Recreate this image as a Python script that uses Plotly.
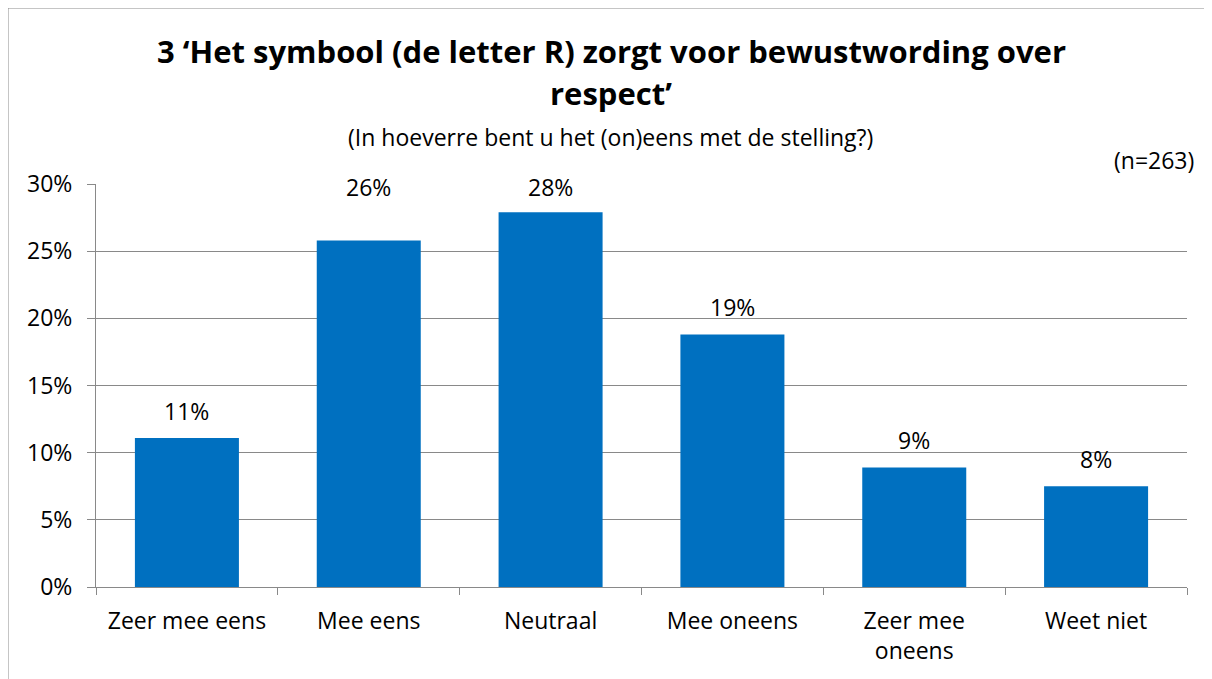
import plotly.graph_objects as go

categories = ["Zeer mee eens", "Mee eens", "Neutraal", "Mee oneens", "Zeer mee<br>oneens", "Weet niet"]
values = [11.1, 25.8, 27.9, 18.8, 8.9, 7.5]
labels = ["11%", "26%", "28%", "19%", "9%", "8%"]
y_ticks = [0, 5, 10, 15, 20, 25, 30]
y_tick_labels = ["0%", "5%", "10%", "15%", "20%", "25%", "30%"]

FONT = "'Open Sans', Lato, sans-serif"
GRID = "#898989"

W, H = 1204, 671
ml, mr, mt, mb = 88, 25, 176, 92
pw, ph = W - ml - mr, H - mt - mb
OFF = 8  # page offset of the figure


def px_x(p):
    return (p - OFF - ml) / pw


def px_y(p):
    return (H - mb - (p - OFF)) / ph


fig = go.Figure()
fig.add_trace(go.Bar(x=categories, y=values, marker=dict(color="#0070C0", line=dict(width=0)),
                     width=0.572, hoverinfo="skip"))

extra_shift = {1: 26, 2: -2}
for i, (c, v, t) in enumerate(zip(categories, values, labels)):
    fig.add_annotation(x=c, y=v, text=t, showarrow=False, yanchor="middle",
                       yshift=27 + extra_shift.get(i, 0),
                       font=dict(family=FONT, size=23, color="#000000"))

fig.add_annotation(xref="paper", yref="paper", x=px_x(611), y=px_y(51), xanchor="center", yanchor="middle",
                   text="<b>3 ‘Het symbool (de letter R) zorgt voor bewustwording over</b>",
                   showarrow=False, font=dict(family=FONT, size=31, color="#000000"))
fig.add_annotation(xref="paper", yref="paper", x=px_x(611), y=px_y(93), xanchor="center", yanchor="middle",
                   text="<b>respect’</b>",
                   showarrow=False, font=dict(family=FONT, size=31, color="#000000"))
fig.add_annotation(xref="paper", yref="paper", x=px_x(610), y=px_y(137), xanchor="center", yanchor="middle",
                   text="(In hoeverre bent u het (on)eens met de stelling?)",
                   showarrow=False, font=dict(family=FONT, size=23, color="#000000"))
fig.add_annotation(xref="paper", yref="paper", x=px_x(1196), y=px_y(160), xanchor="right", yanchor="middle",
                   text="(n=263)", showarrow=False, font=dict(family=FONT, size=23, color="#000000"))

fig.add_shape(type="line", xref="paper", yref="paper",
              x0=px_x(7.5), x1=px_x(7.5), y0=px_y(700), y1=px_y(7),
              line=dict(color="#8c8c8c", width=2), layer="below")
fig.add_shape(type="line", xref="paper", yref="paper",
              x0=px_x(6.5), x1=px_x(1220), y0=px_y(7.5), y1=px_y(7.5),
              line=dict(color="#8c8c8c", width=2), layer="below")

fig.update_layout(
    width=W, height=H,
    margin=dict(l=ml, r=mr, t=mt, b=mb),
    paper_bgcolor="white", plot_bgcolor="white",
    showlegend=False,
    font=dict(family=FONT, size=23, color="#000000"),
)
fig.update_xaxes(showline=True, linecolor=GRID, linewidth=1, ticks="outside", tickson="boundaries",
                 ticklen=7, tickcolor=GRID, showgrid=False, tickfont=dict(size=23), automargin=False,
                 ticklabelstandoff=13)
fig.update_yaxes(range=[0, 30], tickvals=y_ticks, ticktext=y_tick_labels, showline=True, linecolor=GRID,
                 linewidth=1, ticks="outside", ticklen=8, tickcolor=GRID, showgrid=True, gridcolor=GRID,
                 gridwidth=1, tickfont=dict(size=23), zeroline=False, automargin=False,
                 ticklabelstandoff=10)

fig.write_html("out.html")
